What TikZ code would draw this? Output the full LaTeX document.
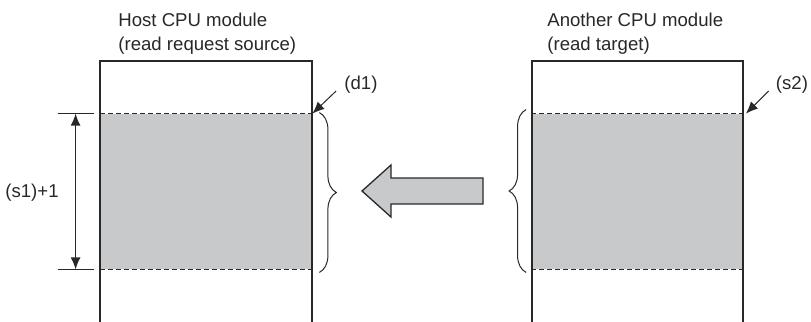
\documentclass[tikz,border=0pt]{standalone}
\usepackage{fontspec}
\setmainfont{Liberation Sans}
\usetikzlibrary{arrows.meta,positioning,calc,decorations.pathreplacing}
\definecolor{bandgray}{RGB}{200,201,203}
\definecolor{inkgray}{RGB}{40,40,40}
\tikzset{
    title/.style={align=left, anchor=north west, inner sep=0pt, text=inkgray, font=\fontsize{9.3}{12}\selectfont},
    tag/.style={inner sep=0pt, text=inkgray, font=\fontsize{9.3}{12}\selectfont},
    memband/.style={fill=bandgray, inner sep=0pt, minimum width=106pt, minimum height=77.5pt},
    bandedge/.style={draw=inkgray, line width=0.45pt, dash pattern=on 2.5pt off 1.5pt},
    modline/.style={draw=inkgray, line width=0.75pt},
    pointer/.style={-{Latex[length=6pt, width=5pt]}, draw=inkgray, line width=0.5pt},
    dimarrow/.style={{Latex[length=6pt, width=5pt]}-{Latex[length=6pt, width=5pt]}, draw=inkgray, line width=0.65pt},
    rangebrace/.style={decorate, decoration={brace, amplitude=8.5pt}, draw=inkgray, line width=0.5pt},
    transfer/.style={draw=inkgray, fill=bandgray, line width=0.65pt}
}
\begin{document}
\begin{tikzpicture}[x=0.5pt, y=-0.5pt]
    \useasboundingbox (0,0) rectangle (811,322);

    % host side
    \node[memband] (hostband) at (206,191.5) {};
    \draw[modline] (100,322) |- (312,61) -- (312,322);
    \draw[bandedge] (hostband.north west) -- (hostband.north east);
    \draw[bandedge] (hostband.south west) -- (hostband.south east);
    \node[title] (hosttitle) at (118,13) {Host CPU module\\(read request source)};

    % target side
    \node[memband] (targetband) at (637.5,191.5) {};
    \draw[modline] (532,322) |- (743,61) -- (743,322);
    \draw[bandedge] (targetband.north west) -- (targetband.north east);
    \draw[bandedge] (targetband.south west) -- (targetband.south east);
    \node[title] (targettitle) at (547,13) {Another CPU module\\(read target)};

    % size of the read area
    \coordinate (dimtop) at ($(hostband.north west)+(-24,0)$);
    \coordinate (dimbot) at ($(hostband.south west)+(-24,0)$);
    \draw[draw=inkgray, thin] ($(hostband.north west)+(-42,0)$) -- ($(hostband.north west)+(-6,0)$);
    \draw[draw=inkgray, thin] ($(hostband.south west)+(-42,0)$) -- ($(hostband.south west)+(-6,0)$);
    \draw[dimarrow] (dimtop) -- (dimbot);
    \node[tag] (count) at (32,193) {(s1)+1};

    % device pointers
    \node[tag] (dest) at (361,85) {(d1)};
    \node[tag] (src) at (792,85) {(s2)};
    \draw[pointer] ($(dest.south west)+(-8,-3)$) -- (hostband.north east);
    \draw[pointer] ($(src.south west)+(-7,-3)$) -- ($(targetband.north east)+(2,0)$);

    % braces
    \draw[rangebrace] ($(hostband.north east)+(7,-1)$) -- ($(hostband.south east)+(7,3)$);
    \draw[rangebrace] ($(targetband.south west)+(-5,3)$) -- ($(targetband.north west)+(-5,-4)$);

    % transfer direction
    \draw[transfer] (362,191) -- (391,165) -- (391,178) -- (483,178)
        -- (483,204) -- (391,204) -- (391,217) -- cycle;
\end{tikzpicture}
\end{document}
